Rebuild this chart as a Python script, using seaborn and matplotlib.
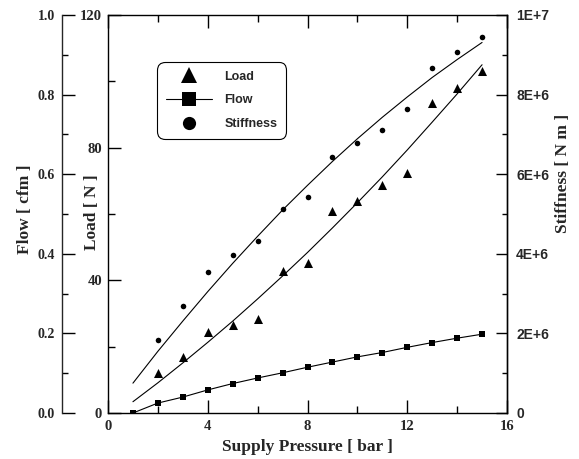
import numpy as np
import pandas as pd
import seaborn as sns
import matplotlib.pyplot as plt
from matplotlib.lines import Line2D

sns.set_style('white')
plt.rcParams['font.family'] = ['Liberation Serif', 'DejaVu Serif']
plt.rcParams['font.weight'] = 'bold'

# datos
pressure = [1, 2, 3, 4, 5, 6, 7, 8, 9, 10, 11, 12, 13, 14, 15]
flow = [0.0, 0.025, 0.040, 0.058, 0.074, 0.088, 0.101, 0.115, 0.128, 0.141,
        0.152, 0.165, 0.177, 0.188, 0.198]

pressure_pts = [2, 3, 4, 5, 6, 7, 8, 9, 10, 11, 12, 13, 14, 15]
load = [12.0, 17.0, 24.3, 26.4, 28.2, 42.7, 45.2, 61.0, 63.9, 68.8, 72.4,
        93.4, 98.1, 103.1]
stiffness = [1.83e6, 2.69e6, 3.55e6, 3.97e6, 4.31e6, 5.13e6, 5.43e6, 6.44e6,
             6.78e6, 7.11e6, 7.63e6, 8.68e6, 9.08e6, 9.45e6]

# curvas de ajuste
load_fit = [3.4, 9.1, 15.1, 21.3, 27.7, 34.4, 41.3, 48.4, 55.8, 63.4, 71.2,
            79.3, 87.7, 96.2, 105.0]
stiff_fit = [0.75e6, 1.55e6, 2.31e6, 3.05e6, 3.76e6, 4.44e6, 5.10e6, 5.72e6,
             6.32e6, 6.89e6, 7.43e6, 7.94e6, 8.43e6, 8.88e6, 9.31e6]

x_ticks = [0, 4, 8, 12, 16]
load_ticks = [0, 40, 80, 120]
flow_ticks = [0.0, 0.2, 0.4, 0.6, 0.8, 1.0]
flow_labels = ['0.0', '0.2', '0.4', '0.6', '0.8', '1.0']
stiff_ticks = [0, 2e6, 4e6, 6e6, 8e6, 1e7]
stiff_labels = ['0', '2E+6', '4E+6', '6E+6', '8E+6', '1E+7']

W, H = 579, 459
fig = plt.figure(figsize=(W / 100, H / 100), dpi=100)
ax = fig.add_axes([108 / W, 1 - 413 / H, 399 / W, 398 / H])
ax_st = ax.twinx()
ax_fl = ax.twinx()

# carga (eje principal)
sns.scatterplot(x=pressure_pts, y=load, marker='^', s=6.5 ** 2, color='black',
                linewidth=0, ax=ax)
sns.lineplot(x=pressure, y=load_fit, color='black', linewidth=0.8, ax=ax)

# rigidez
sns.scatterplot(x=pressure_pts, y=stiffness, marker='o', s=4 ** 2, color='black',
                linewidth=0, ax=ax_st)
sns.lineplot(x=pressure, y=stiff_fit, color='black', linewidth=0.8, ax=ax_st)

# caudal
sns.lineplot(x=pressure, y=flow, color='black', linewidth=0.8, marker='s',
             markersize=5, markeredgewidth=0, ax=ax_fl)

tick_kw = dict(direction='in', width=1, color='black')

ax.set_xlim(0, 16)
ax.set_ylim(0, 120)
ax.set_xticks(x_ticks, [str(t) for t in x_ticks], fontsize=10.5)
ax.set_xticks([2, 6, 10, 14], minor=True)
ax.set_yticks(load_ticks, [str(t) for t in load_ticks], fontsize=10.5)
ax.set_yticks([20, 60, 100], minor=True)
ax.tick_params(axis='x', which='both', top=True, bottom=True, pad=5, **tick_kw)
ax.tick_params(axis='y', which='both', left=True, right=False, pad=4.3, **tick_kw)
ax.tick_params(which='major', length=9.5)
ax.tick_params(which='minor', length=5)
for s in ax.spines.values():
    s.set_linewidth(1)
    s.set_color('black')

ax_st.set_ylim(0, 1e7)
ax_st.set_yticks(stiff_ticks, stiff_labels, fontsize=10, fontfamily='Liberation Sans')
ax_st.set_yticks([1e6, 3e6, 5e6, 7e6, 9e6], minor=True)
ax_st.tick_params(axis='y', which='both', pad=6.5, **tick_kw)
ax_st.tick_params(axis='y', which='major', length=8)
ax_st.tick_params(axis='y', which='minor', length=3.6)
for k in ['left', 'top', 'bottom']:
    ax_st.spines[k].set_visible(False)
ax_st.spines['right'].set_linewidth(1)

ax_fl.set_ylim(0, 1)
ax_fl.yaxis.tick_left()
ax_fl.yaxis.set_label_position('left')
ax_fl.set_yticks(flow_ticks, flow_labels, fontsize=10.5)
ax_fl.set_yticks([0.1, 0.3, 0.5, 0.7, 0.9], minor=True)
ax_fl.tick_params(axis='y', which='both', pad=5, **tick_kw)
ax_fl.tick_params(axis='y', which='major', length=9.5)
ax_fl.tick_params(axis='y', which='minor', length=4.5)
for k in ['right', 'top', 'bottom']:
    ax_fl.spines[k].set_visible(False)
ax_fl.spines['left'].set_visible(True)
ax_fl.spines['left'].set_position(('outward', 46 * 0.72))
ax_fl.spines['left'].set_linewidth(1)

# etiquetas
lab_kw = dict(fontsize=12.5, fontweight='bold')
ax.set_xlabel('Supply Pressure [ bar ]', **lab_kw)
ax.xaxis.label.set_va('center')
ax.xaxis.set_label_coords(0.5, -0.0854)
ax.set_ylabel('Load [ N ]', **lab_kw)
ax.yaxis.label.set_va('center')
ax.yaxis.set_label_coords(-16 / 399, 0.504)
ax_fl.set_ylabel('Flow [ cfm ]', **lab_kw)
ax_fl.yaxis.label.set_va('center')
ax_fl.yaxis.set_label_coords(-83 / 399, 0.513)
ax_st.set_ylabel('Stiffness [ N m ]', **lab_kw)
ax_st.yaxis.label.set_va('center')
ax_st.yaxis.label.set_rotation(90)
ax_st.yaxis.set_label_coords(455 / 399, 0.603)

# leyenda
handles = [
    Line2D([], [], linestyle='none', marker='^', markersize=11, color='black', markeredgewidth=0),
    Line2D([], [], linestyle='-', linewidth=0.8, marker='s', markersize=10, color='black', markeredgewidth=0),
    Line2D([], [], linestyle='none', marker='o', markersize=9.5, color='black', markeredgewidth=0),
]
leg = ax.legend(handles, ['Load', 'Flow', 'Stiffness'], loc='upper left',
                bbox_to_anchor=(157 / W, 1 - 62 / H), bbox_transform=fig.transFigure,
                borderaxespad=0, borderpad=0.7, handlelength=3.7, handletextpad=1.0,
                labelspacing=0.93, frameon=True, fancybox=True, framealpha=1,
                prop={'family': 'Liberation Sans', 'weight': 'bold', 'size': 9})
leg.get_frame().set_edgecolor('black')
leg.get_frame().set_linewidth(0.8)
leg.get_frame().set_boxstyle('round', pad=0, rounding_size=0.6)
ax.set_zorder(3)
ax.patch.set_visible(False)

fig.savefig('out.png', dpi=100)
